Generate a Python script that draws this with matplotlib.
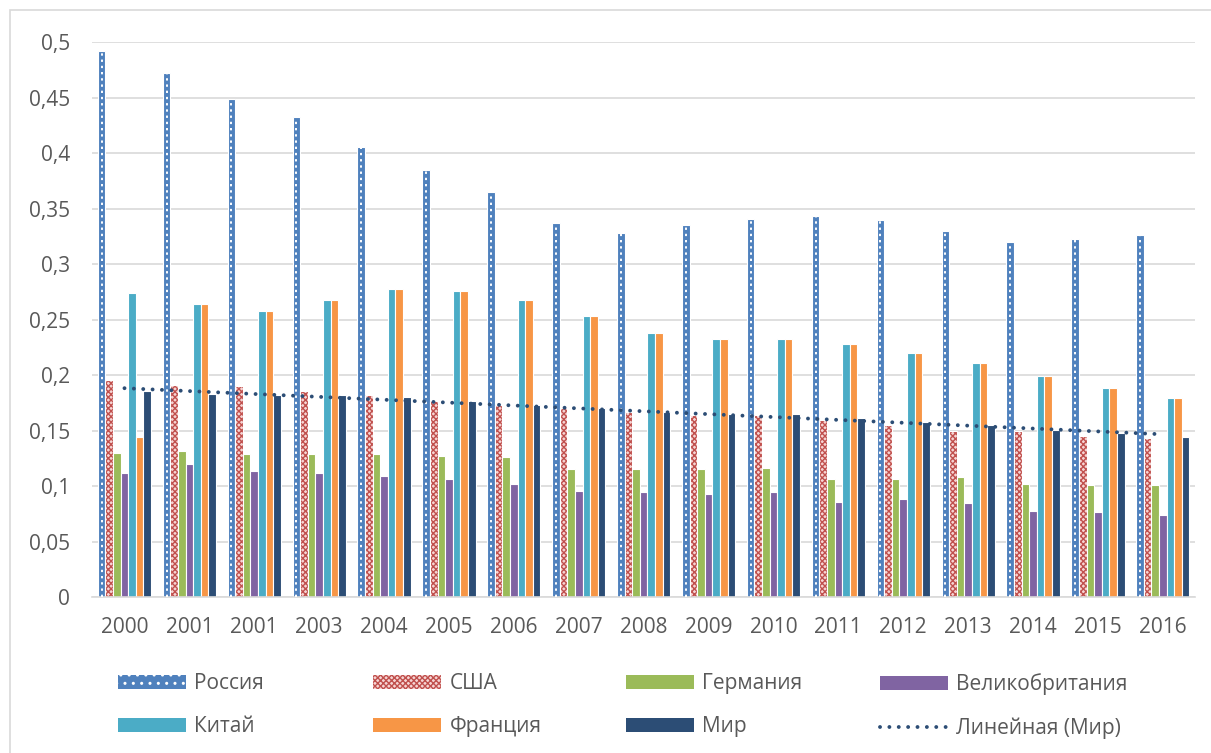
import numpy as np
import matplotlib.pyplot as plt
from matplotlib.patches import Patch, Rectangle
from matplotlib.lines import Line2D
from matplotlib.ticker import FuncFormatter, MultipleLocator

plt.rcParams['font.family'] = ['Open Sans', 'DejaVu Sans']

# годы (подписи оси X как в исходной таблице)
years = ['2000', '2001', '2001', '2003', '2004', '2005', '2006', '2007', '2008',
         '2009', '2010', '2011', '2012', '2013', '2014', '2015', '2016']

russia = [0.492, 0.472, 0.449, 0.433, 0.406, 0.385, 0.365, 0.337, 0.328,
          0.335, 0.341, 0.343, 0.340, 0.330, 0.320, 0.323, 0.326]
usa = [0.196, 0.191, 0.190, 0.186, 0.182, 0.177, 0.173, 0.170, 0.167,
       0.164, 0.164, 0.160, 0.155, 0.150, 0.150, 0.145, 0.143]
germany = [0.130, 0.132, 0.129, 0.129, 0.129, 0.127, 0.126, 0.115, 0.115,
           0.115, 0.116, 0.106, 0.106, 0.108, 0.102, 0.101, 0.101]
uk = [0.112, 0.120, 0.114, 0.112, 0.109, 0.106, 0.102, 0.096, 0.095,
      0.093, 0.095, 0.086, 0.088, 0.085, 0.078, 0.077, 0.074]
china = [0.274, 0.264, 0.258, 0.268, 0.278, 0.276, 0.268, 0.253, 0.238,
         0.233, 0.233, 0.228, 0.220, 0.211, 0.199, 0.188, 0.179]
france = [0.144, 0.264, 0.258, 0.268, 0.278, 0.276, 0.268, 0.253, 0.238,
          0.233, 0.233, 0.228, 0.220, 0.211, 0.199, 0.188, 0.179]
world = [0.186, 0.183, 0.182, 0.182, 0.180, 0.177, 0.173, 0.170, 0.167,
         0.165, 0.165, 0.161, 0.158, 0.155, 0.151, 0.148, 0.144]

c_rus = '#4F81BD'
c_usa = '#C0504D'
c_ger = '#9BBB59'
c_uk = '#8064A2'
c_chn = '#4BACC6'
c_fra = '#F79646'
c_wld = '#2C4D75'
txt = '#595959'
grid = '#D9D9D9'
trend_style = dict(color=c_wld, linewidth=2.8, linestyle=(0, (0.01, 2.4)),
                   dash_capstyle='round')

fig = plt.figure(figsize=(12.11, 7.53), dpi=100)
ax = fig.add_axes([0.076, 0.207, 0.911, 0.737])

x = np.arange(len(years))
w = 0.82 / 7
offs = (np.arange(7) - 3) * w

series = [(russia, c_rus), (usa, '#F6D5D4'), (germany, c_ger), (uk, c_uk),
          (china, c_chn), (france, c_fra), (world, c_wld)]
for i, (vals, col) in enumerate(series):
    if i == 1:
        ax.bar(x + offs[i], vals, w, color=col, edgecolor=c_usa, hatch='xxxxxx',
               linewidth=0, zorder=2)
        ax.bar(x + offs[i], vals, w, color='none', edgecolor='white',
               linewidth=0.8, zorder=2)
    else:
        ax.bar(x + offs[i], vals, w, color=col, edgecolor='white',
               linewidth=0.8, zorder=2)

# белые точки по центру столбцов России
ax.vlines(x + offs[0], 0, russia, colors='white', linewidth=1.4,
          linestyles=(0, (1.2, 2.0)), zorder=3)

# линейный тренд по миру
k, b = np.polyfit(x, world, 1)
ax.plot(x, k * x + b, zorder=4, **trend_style)

ax.set_xlim(-0.5, len(years) - 0.5)
ax.set_ylim(0, 0.5)
ax.yaxis.set_major_locator(MultipleLocator(0.05))
ax.yaxis.set_major_formatter(FuncFormatter(
    lambda v, p: ('%.2f' % v).rstrip('0').rstrip('.').replace('.', ',')))
ax.set_xticks(x)
ax.set_xticklabels(years)
ax.tick_params(axis='both', length=0, labelsize=15, colors=txt)
ax.tick_params(axis='x', pad=14)
ax.tick_params(axis='y', pad=16)
ax.grid(axis='y', color=grid, linewidth=1.2, zorder=0)
ax.set_axisbelow(True)
for s in ['top', 'right', 'left']:
    ax.spines[s].set_visible(False)
ax.spines['bottom'].set_color(grid)
ax.spines['bottom'].set_linewidth(1.2)

# легенда: четыре колонки по две строки
columns = [
    ([Patch(facecolor=c_rus, edgecolor='white', hatch='..', linewidth=0),
      Patch(facecolor=c_chn)], ['Россия', 'Китай'], 118),
    ([Patch(facecolor='#F6D5D4', edgecolor=c_usa, hatch='xxxxxx', linewidth=0),
      Patch(facecolor=c_fra)], ['США', 'Франция'], 373),
    ([Patch(facecolor=c_ger), Patch(facecolor=c_wld)], ['Германия', 'Мир'], 626),
    ([Patch(facecolor=c_uk), Line2D([], [], **trend_style)],
     ['Великобритания', 'Линейная (Мир)'], 880),
]
for hs, ls, px in columns:
    leg = fig.legend(hs, ls, loc='upper left', bbox_to_anchor=(px / 1211, 1 - 673 / 753),
                     frameon=False, fontsize=15, handlelength=3.27, handleheight=0.65,
                     handletextpad=0.4, labelspacing=1.07, borderpad=0,
                     borderaxespad=0)
    for t in leg.get_texts():
        t.set_color(txt)

# рамка вокруг диаграммы
fig.patches.append(Rectangle((10 / 1211, -0.01), 1.2, 1.0 - 10 / 753 + 0.01,
                             transform=fig.transFigure, fill=False,
                             edgecolor=grid, linewidth=1.2))

fig.savefig('out.png', dpi=100)
